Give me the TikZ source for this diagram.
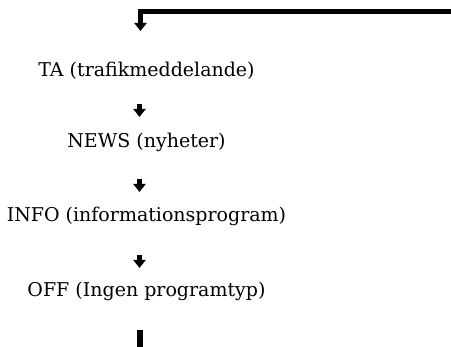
\documentclass[tikz,border=0pt]{standalone}
\usepackage{fontspec}
\setmainfont{DejaVu Serif}
\usetikzlibrary{arrows.meta}
\tikzset{
  lbl/.style={anchor=base, inner sep=0pt, font=\fontsize{19}{22}\selectfont},
  smallarrow/.style={line width=4.5pt, -{Triangle[width=12pt,length=8pt]}},
  thickline/.style={line width=4.5pt}
}
\begin{document}
\begin{tikzpicture}[x=1pt,y=-1pt]
\useasboundingbox (0,0) rectangle (451,347);
\node[lbl] (ta) at (146.5,76.5) {TA (trafikmeddelande)};
\node[lbl] (news) at (146.5,148) {NEWS (nyheter)};
\node[lbl] (info) at (146.5,221.5) {INFO (informationsprogram)};
\node[lbl] (off) at (146.5,296.5) {OFF (Ingen programtyp)};
\coordinate (topR) at (460,11.5);
\coordinate (topA) at (140.5,31);
\coordinate (a2s) at (139.5,104);
\coordinate (a2e) at (139.5,117);
\coordinate (a3s) at (139.5,179);
\coordinate (a3e) at (139.5,192);
\coordinate (a4s) at (139.5,255);
\coordinate (a4e) at (139.5,268);
\coordinate (bs) at (140,330);
\coordinate (be) at (140,355);
\draw[smallarrow] (topR) -| (topA);
\draw[smallarrow] (a2s) -- (a2e);
\draw[smallarrow] (a3s) -- (a3e);
\draw[smallarrow] (a4s) -- (a4e);
\draw[thickline, line width=5.5pt] (bs) -- (be);
\end{tikzpicture}
\end{document}
